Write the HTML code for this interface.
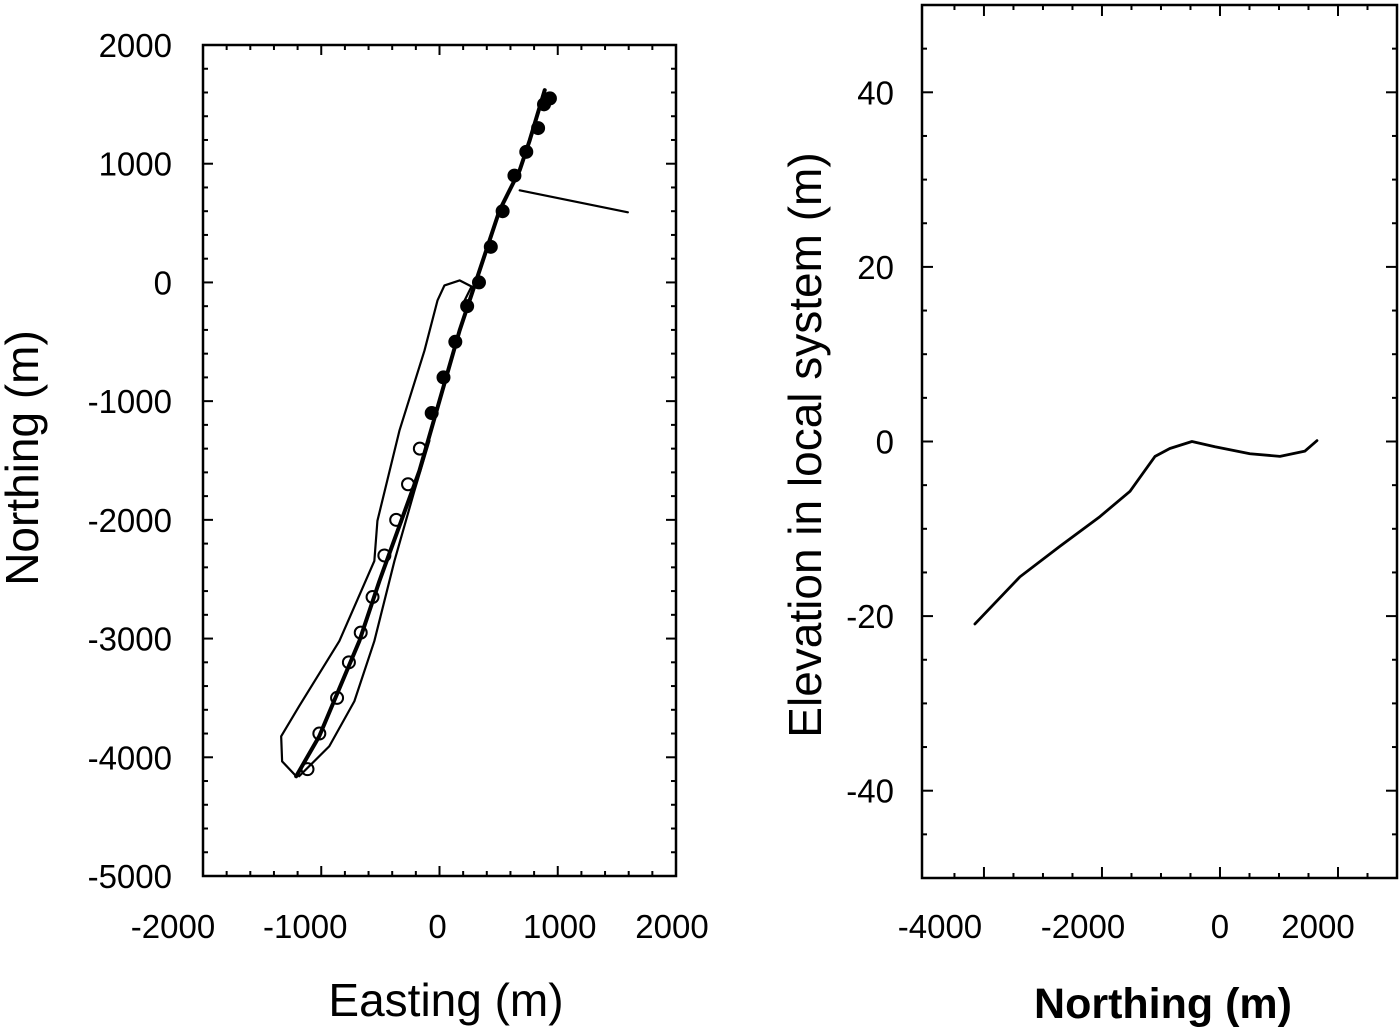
<!DOCTYPE html>
<html><head><meta charset="utf-8"><style>
html,body{margin:0;padding:0;background:#fff;}
svg{display:block;font-family:"Liberation Sans",Arial,sans-serif;}
</style></head><body>
<svg id="fig" width="1400" height="1033" viewBox="0 0 1400 1033">
  <g id="left"></g>
  <g id="right"></g>
  <text x="446" y="1016" font-size="46" text-anchor="middle">Easting (m)</text>
  <text transform="translate(38,458) rotate(-90)" font-size="46" text-anchor="middle">Northing (m)</text>
  <text x="1163" y="1018" font-size="43" font-weight="bold" text-anchor="middle">Northing (m)</text>
  <text transform="translate(821,445) rotate(-90)" font-size="46" text-anchor="middle">Elevation in local system (m)</text>
</svg>
<script>
// ---- Left chart data (Easting, Northing in m) ----
const xTicksL = [-2000,-1000,0,1000,2000];
const yTicksL = [2000,1000,0,-1000,-2000,-3000,-4000,-5000];
const mainE = [-1212,-1017,-678,-508,-170,0,170,339,508,678,763,890];
const mainN = [-4160,-3823,-3021,-2515,-1587,-996,-405,101,608,945,1198,1620];
const outerE = [-1212,-1331,-1339,-1187,-847,-551,-525,-339,-127,-17,42,170,271,212];
const outerN = [-4160,-4034,-3823,-3570,-3021,-2346,-2008,-1249,-574,-152,-25,17,-34,-152];
const innerE = [-1187,-932,-720,-551,-381,-212,-85];
const innerN = [-4160,-3907,-3528,-3021,-2346,-1755,-1333];
const spurE = [678,1593];
const spurN = [776,591];
const circE = [-1150,-1050,-900,-800,-700,-600,-500,-400,-300,-200,-100,0,100,200,300,400,500,600,700,800,850,900];
const circN = [-4100,-3800,-3500,-3200,-2950,-2650,-2300,-2000,-1700,-1400,-1100,-800,-500,-200,0,300,600,900,1100,1300,1500,1550];
// ---- Right chart data ----
const xTicksR = [-4000,-2000,0,2000];
const yTicksR = [40,20,0,-20,-40];
const elevX = [-4153,-3390,-2712,-2034,-1525,-1100,-850,-475,-85,508,1017,1440,1644];
const elevY = [-20.9,-15.5,-12.0,-8.6,-5.7,-1.7,-0.8,0,-0.6,-1.4,-1.7,-1.1,0.1];

const NS='http://www.w3.org/2000/svg';
function mk(parent,tag,attrs){const e=document.createElementNS(NS,tag);for(const k in attrs)e.setAttribute(k,attrs[k]);parent.appendChild(e);return e;}

const L={x0:203,x1:676,y0:45,y1:876,xmin:-2000,xmax:2000,ymin:-5000,ymax:2000};
const sxL=v=>L.x0+(v-L.xmin)/(L.xmax-L.xmin)*(L.x1-L.x0);
const syL=v=>L.y1-(v-L.ymin)/(L.ymax-L.ymin)*(L.y1-L.y0);
const gL=document.getElementById('left');
let fr=mk(gL,'rect',{x:L.x0,y:L.y0,width:L.x1-L.x0,height:L.y1-L.y0,fill:'none',stroke:'#000','stroke-width':2.5});


for(let v=-2000;v<=2000;v+=200){const x=sxL(v);const len=(v%1000===0)?10:5;
 mk(gL,'line',{x1:x,y1:L.y1,x2:x,y2:L.y1-len,stroke:'#000','stroke-width':2});
 mk(gL,'line',{x1:x,y1:L.y0,x2:x,y2:L.y0+len,stroke:'#000','stroke-width':2});}
for(let v=-5000;v<=2000;v+=200){const y=syL(v);const len=(v%1000===0)?10:5;
 mk(gL,'line',{x1:L.x0,y1:y,x2:L.x0+len,y2:y,stroke:'#000','stroke-width':2});
 mk(gL,'line',{x1:L.x1,y1:y,x2:L.x1-len,y2:y,stroke:'#000','stroke-width':2});}
const offL={'-2000':-30,'-1000':-16,'0':-2,'1000':2,'2000':-4};
xTicksL.forEach(v=>{const t=mk(gL,'text',{x:sxL(v)+offL[String(v)],y:938,'font-size':33,'text-anchor':'middle'});t.textContent=v;
 
 });
yTicksL.forEach(v=>{const t=mk(gL,'text',{x:172,y:syL(v)+12,'font-size':33,'text-anchor':'end'});t.textContent=v;
 
 });
function poly(g,X,Y,sx,sy,w,name){const pts=X.map((v,i)=>sx(v)+','+sy(Y[i])).join(' ');
 const p=mk(g,'polyline',{points:pts,fill:'none',stroke:'#000','stroke-width':w,'stroke-linejoin':'round','stroke-linecap':'round'});
 
 return p;}
poly(gL,outerE,outerN,sxL,syL,2.2,'outer-loop-track');
poly(gL,innerE,innerN,sxL,syL,2.2,'inner-loop-track');
poly(gL,mainE,mainN,sxL,syL,4,'main-track');
poly(gL,spurE,spurN,sxL,syL,2.2,'spur-track');
circE.forEach((v,i)=>{const c=mk(gL,'circle',{cx:sxL(v)+4,cy:syL(circN[i]),r:6,fill:circN[i]>-1200?'#000':'none',stroke:'#000','stroke-width':2});
 
 });

const R={x0:922,x1:1397,y0:5,y1:878,xmin:-5050,xmax:3000,ymin:-50,ymax:50};
const sxR=v=>R.x0+(v-R.xmin)/(R.xmax-R.xmin)*(R.x1-R.x0);
const syR=v=>R.y1-(v-R.ymin)/(R.ymax-R.ymin)*(R.y1-R.y0);
const gR=document.getElementById('right');
fr=mk(gR,'rect',{x:R.x0,y:R.y0,width:R.x1-R.x0,height:R.y1-R.y0,fill:'none',stroke:'#000','stroke-width':2.5});


for(let v=-4500;v<=2500;v+=500){const x=sxR(v);const len=(v%2000===0)?11:5;
 mk(gR,'line',{x1:x,y1:R.y1,x2:x,y2:R.y1-len,stroke:'#000','stroke-width':2});
 mk(gR,'line',{x1:x,y1:R.y0,x2:x,y2:R.y0+len,stroke:'#000','stroke-width':2});}
for(let v=-45;v<=45;v+=5){const y=syR(v);const len=(v%20===0)?11:5;
 mk(gR,'line',{x1:R.x0,y1:y,x2:R.x0+len,y2:y,stroke:'#000','stroke-width':2});
 mk(gR,'line',{x1:R.x1,y1:y,x2:R.x1-len,y2:y,stroke:'#000','stroke-width':2});}
const offR={'-4000':-44,'-2000':-19,'0':0,'2000':-20};
xTicksR.forEach(v=>{const t=mk(gR,'text',{x:sxR(v)+offR[String(v)],y:938,'font-size':33,'text-anchor':'middle'});t.textContent=v;
 
 });
yTicksR.forEach(v=>{const t=mk(gR,'text',{x:894,y:syR(v)+12,'font-size':33,'text-anchor':'end'});t.textContent=v;
 
 });
poly(gR,elevX,elevY,sxR,syR,2.8,'elevation-line');
</script>
</body></html>
